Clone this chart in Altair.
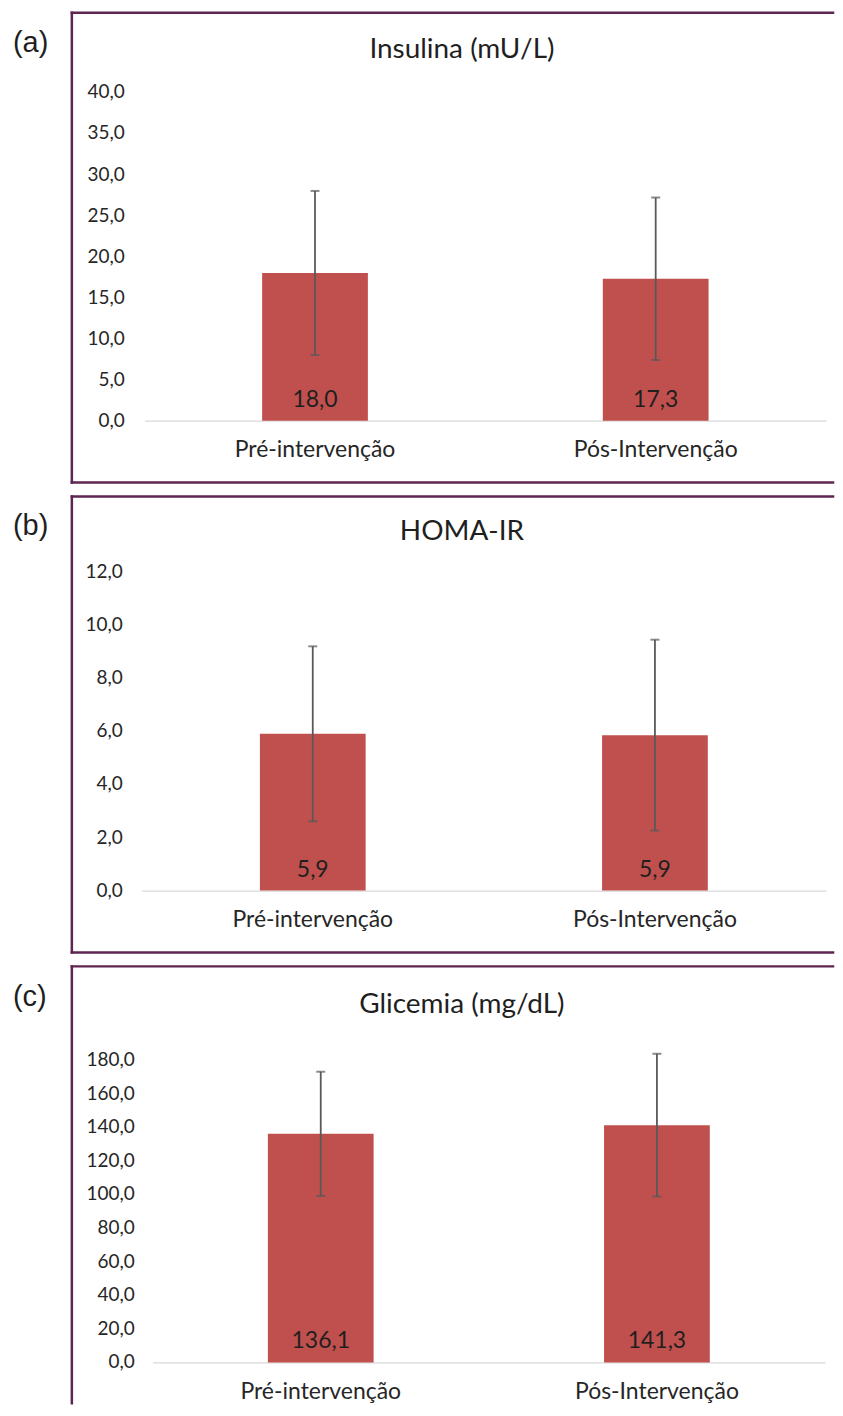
import altair as alt
import pandas as pd

# ---- data ----
groups = ["Pré-intervenção", "Pós-Intervenção"]

insulina_mean = [18.0, 17.3]
insulina_sd = [10.0, 9.9]

homa_mean = [5.91, 5.86]
homa_sd = [3.3, 3.6]

glic_mean = [136.1, 141.3]
glic_sd = [37.0, 42.5]

titles = ["Insulina (mU/L)", "HOMA-IR", "Glicemia (mg/dL)"]
letters = ["(a)", "(b)", "(c)"]
y_max = [40, 12, 180]
y_step = [5, 2, 20]

BAR = "#C0504D"
ERR = "#595959"
BOX = "#5E2550"
TXT = "#1F1F1F"
FONT = "Lato"

W = 686
RIGHT = 693


def panel(means, sds, title, letter, ymax, ystep, height, xrange, label_pad,
          box_top, box_bottom, title_y, letter_y, draw_bottom=True):
    df = pd.DataFrame({"grupo": groups, "media": means, "sd": sds})
    one = pd.DataFrame({"k": [0]})
    tick_vals = list(range(0, ymax + 1, ystep))
    ticks_df = pd.DataFrame({"v": tick_vals})
    base = alt.Chart(df).transform_calculate(
        lo="datum.media - datum.sd",
        hi="datum.media + datum.sd",
        rotulo="replace(format(datum.media, '.1f'), '.', ',')",
        zero="0",
    )
    x_scale = alt.Scale(range=xrange, paddingInner=0, paddingOuter=0)
    x = alt.X(
        "grupo:N",
        sort=groups,
        scale=x_scale,
        axis=alt.Axis(
            title=None, ticks=False, labelAngle=0, labelFont=FONT,
            labelFontSize=23, labelColor="#262626", labelPadding=18,
            domainColor="#D9D9D9", domainWidth=1.2,
        ),
    )
    y_scale = alt.Scale(domain=[0, ymax], nice=False, zero=True)

    bars = base.mark_bar(size=106, color=BAR).encode(
        x=x, y=alt.Y("media:Q", scale=y_scale, axis=None)
    )
    err = base.mark_rule(color=ERR, strokeWidth=1.8).encode(
        x=x, y=alt.Y("lo:Q", scale=y_scale, axis=None), y2="hi:Q"
    )
    cap_hi = base.mark_tick(color=ERR, size=9, thickness=2).encode(
        x=x, y=alt.Y("hi:Q", scale=y_scale, axis=None)
    )
    cap_lo = base.mark_tick(color=ERR, size=9, thickness=2).encode(
        x=x, y=alt.Y("lo:Q", scale=y_scale, axis=None)
    )
    vals = base.mark_text(
        dy=-21, baseline="middle", align="center", font=FONT,
        fontSize=23, color=TXT,
    ).encode(x=x, y=alt.Y("zero:Q", scale=y_scale, axis=None), text="rotulo:N")

    ylabels = alt.Chart(ticks_df).transform_calculate(
        lab="replace(format(datum.v, '.1f'), '.', ',')"
    ).mark_text(
        align="right", baseline="middle", font=FONT, fontSize=19, color="#262626"
    ).encode(
        x=alt.value(-label_pad),
        y=alt.Y("v:Q", scale=y_scale, axis=None),
        text="lab:N",
    )

    box = alt.Chart(one)
    left = box.mark_rule(color=BOX, strokeWidth=2.5, strokeCap="square").encode(
        x=alt.value(-70), y=alt.value(box_top), y2=alt.value(box_bottom)
    )
    top = box.mark_rule(color=BOX, strokeWidth=2.5, strokeCap="square").encode(
        x=alt.value(-70), x2=alt.value(RIGHT), y=alt.value(box_top)
    )
    layers = [left, top]
    if draw_bottom:
        bottom = box.mark_rule(color=BOX, strokeWidth=2.5, strokeCap="square").encode(
            x=alt.value(-70), x2=alt.value(RIGHT), y=alt.value(box_bottom)
        )
        layers.append(bottom)
    ttl = box.mark_text(
        align="center", baseline="middle", font=FONT, fontSize=28, color=TXT
    ).encode(x=alt.value(321), y=alt.value(title_y), text=alt.value(title))
    let = box.mark_text(
        align="left", baseline="middle", font="Liberation Sans",
        fontSize=29, color=TXT,
    ).encode(x=alt.value(-129), y=alt.value(letter_y), text=alt.value(letter))

    return alt.layer(bars, err, cap_hi, cap_lo, vals, ylabels, *layers, ttl, let).properties(
        width=W, height=height
    )


pa = panel(insulina_mean, insulina_sd, titles[0], letters[0], y_max[0], y_step[0],
           329, [3, 686], 17, -80, 391, -43, -50)
pb = panel(homa_mean, homa_sd, titles[1], letters[1], y_max[1], y_step[1],
           319, [0, 686], 19, -76, 381, -40, -46)
pc = panel(glic_mean, glic_sd, titles[2], letters[2], y_max[2], y_step[2],
           303, [11, 685], 7, -94, 344, -55, -63, draw_bottom=False)

chart = alt.vconcat(pa, pb, pc, spacing=10).configure(
    padding={"left": 5, "top": 1, "right": 0, "bottom": 0},
    background="white",
).configure_view(stroke=None)

chart.save("out.html", embed_options={"renderer": "svg", "actions": False})
